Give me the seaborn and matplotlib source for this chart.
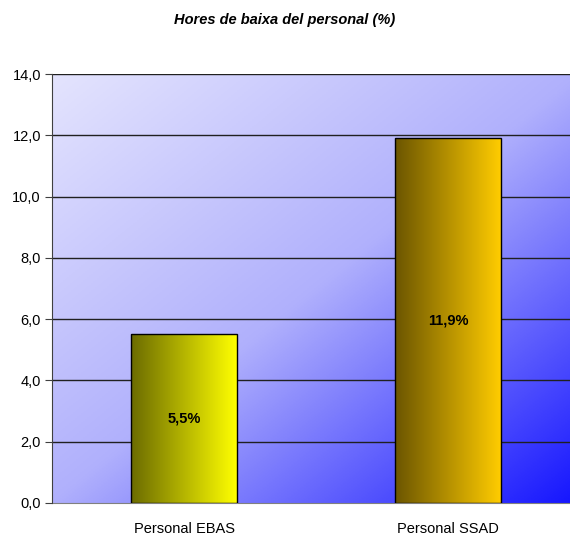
import numpy as np
import pandas as pd
import seaborn as sns
import matplotlib.pyplot as plt
from matplotlib.colors import LinearSegmentedColormap

categories = ['Personal EBAS', 'Personal SSAD']
values = [5.5, 11.9]
labels = ['5,5%', '11,9%']
yticks = [0, 2, 4, 6, 8, 10, 12, 14]
bar_colors = [('#6b6b00', '#ffff00'), ('#6b5500', '#ffcc00')]

df = pd.DataFrame({'cat': categories, 'val': values})

sns.set_style('white')
plt.rcParams['font.family'] = ['Liberation Sans', 'DejaVu Sans']
plt.rcParams['text.color'] = 'black'
plt.rcParams['xtick.color'] = 'black'
plt.rcParams['ytick.color'] = 'black'

fig = plt.figure(figsize=(5.7, 5.36), dpi=100)
# plot area runs a little past the right edge of the picture
ax = fig.add_axes([52 / 570, 33 / 536, 528 / 570, 429 / 536])

# diagonal gradient background, light top-left -> blue bottom-right
n = 256
xx, yy = np.meshgrid(np.linspace(0, 1, n), np.linspace(0, 1, n))
t = (xx + yy) / 2
bg = LinearSegmentedColormap.from_list('bg', ['#e4e4fe', '#b0b0fc', '#1414ff'])
ax.imshow(t, cmap=bg, extent=[0, 1, 0, 1], transform=ax.transAxes,
          aspect='auto', zorder=0, origin='upper')

sns.barplot(data=df, x='cat', y='val', width=0.4, ax=ax,
            edgecolor='black', linewidth=1, zorder=3)

grad = np.linspace(0, 1, 256).reshape(1, -1)
for patch, (c0, c1), lab, v in zip(ax.patches, bar_colors, labels, values):
    patch.set_facecolor('none')
    x0, w, h = patch.get_x(), patch.get_width(), patch.get_height()
    cm = LinearSegmentedColormap.from_list('b', [c0, c1])
    ax.imshow(grad, cmap=cm, extent=[x0, x0 + w, 0, h], aspect='auto', zorder=2)
    ax.text(x0 + w / 2, v / 2, lab, ha='center', va='center', color='black',
            fontsize=10.5, fontweight='bold', zorder=4)

ax.set_xlim(-0.5, 1.5)
ax.set_ylim(0, 14)
ax.set_yticks(yticks)
ax.set_yticklabels([f'{y:.1f}'.replace('.', ',') for y in yticks], fontsize=10.5)
ax.set_xticks([0, 1])
ax.set_xticklabels(categories, fontsize=10.5)
ax.set_xticks([0.5], minor=True)
ax.tick_params(axis='x', which='major', length=0, pad=14)
ax.tick_params(axis='x', which='minor', length=5, color='#808080', direction='out')
ax.tick_params(axis='y', length=5, direction='out', color='#404040', left=True, pad=3)
for y in yticks[1:]:
    ax.axhline(y, color='#202020', lw=1, zorder=1)
ax.set_xlabel('')
ax.set_ylabel('')

for s in ['top', 'right']:
    ax.spines[s].set_visible(False)
ax.spines['left'].set_color('#404040')
ax.spines['bottom'].set_color('#808080')
ax.spines['left'].set_zorder(5)

fig.text(0.5, 1 - 20 / 536, 'Hores de baixa del personal (%)', ha='center', va='center',
         color='black', fontsize=10.5, fontweight='bold', fontstyle='italic')

fig.savefig('out.png', dpi=100)
